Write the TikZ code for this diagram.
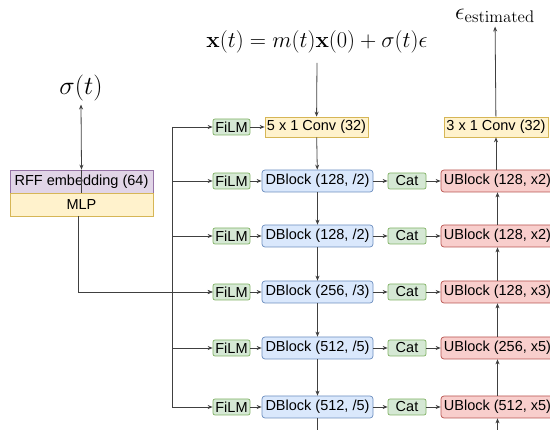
\documentclass[tikz,border=0pt]{standalone}
\usepackage{fix-cm}
\usepackage{amsmath, amssymb}
\usepackage[no-math]{fontspec}
\setmainfont{Liberation Sans}
\usetikzlibrary{arrows.meta}

\definecolor{filmfill}{HTML}{D5E8D4}
\definecolor{filmline}{HTML}{82B366}
\definecolor{dfill}{HTML}{DAE8FC}
\definecolor{dline}{HTML}{6C8EBF}
\definecolor{ufill}{HTML}{F8CECC}
\definecolor{uline}{HTML}{B85450}
\definecolor{convfill}{HTML}{FFF2CC}
\definecolor{convline}{HTML}{D6B656}
\definecolor{rfffill}{HTML}{E1D5E7}
\definecolor{rffline}{HTML}{9673A6}

\begin{document}
\begin{tikzpicture}[x=1pt,y=-1pt,
  box/.style={draw, inner sep=0pt, line width=0.7pt, font=\fontsize{14.5}{16}\selectfont},
  filmbox/.style={box, rounded corners=2pt, fill=filmfill, draw=filmline, minimum width=37pt, minimum height=16pt},
  catbox/.style={box, rounded corners=2pt, fill=filmfill, draw=filmline, minimum width=38pt, minimum height=16pt},
  dblk/.style={box, rounded corners=3pt, fill=dfill, draw=dline, minimum width=111pt, minimum height=22pt},
  ublk/.style={box, rounded corners=3pt, fill=ufill, draw=uline, minimum width=113pt, minimum height=22pt},
  convbox/.style={box, fill=convfill, draw=convline, minimum height=20pt},
  wire/.style={draw=black!75, line width=0.8pt},
  conn/.style={wire, -{Stealth[length=5pt,width=4pt]}}]
\useasboundingbox (0,0) rectangle (550,430);

\node (sig) at (81,88) {\fontsize{26}{30}\selectfont $\sigma(t)$};
\node (frm) at (317,42) {\fontsize{22.5}{26}\selectfont $\mathbf{x}(t) = m(t)\mathbf{x}(0) + \sigma(t)\epsilon$};
\node (eps) at (495,16) {\fontsize{24}{26}\selectfont $\epsilon_{\mathrm{estimated}}$};

\node[box, fill=rfffill, draw=rffline, minimum width=143pt, minimum height=23pt] (rff) at (81.5,181.5) {RFF embedding (64)};
\node[box, fill=convfill, draw=convline, minimum width=143pt, minimum height=23pt] (mlp) at (81.5,204.5) {MLP};

\node[filmbox] (fil0) at (231.5,127) {FiLM};
\node[convbox, minimum width=103pt] (cin) at (316.5,127) {5 x 1 Conv (32)};
\node[convbox, minimum width=104pt] (cout) at (496,127) {3 x 1 Conv (32)};

\foreach \i/\yy/\dl/\ul in {1/181/{128, /2}/{128, x2}, 2/236/{128, /2}/{128, x2},
    3/292/{256, /3}/{128, x3}, 4/348/{512, /5}/{256, x5}, 5/407/{512, /5}/{512, x5}}{
  \node[filmbox] (fil\i) at (231.5,\yy) {FiLM};
  \node[dblk] (dblk\i) at (317.5,\yy) {DBlock (\dl)};
  \node[catbox] (cat\i) at (407,\yy) {Cat};
  \node[ublk] (ublk\i) at (497.5,\yy) {UBlock (\ul)};
  \draw[conn] (fil\i) -- (dblk\i);
  \draw[conn] (dblk\i) -- (cat\i);
  \draw[conn] (cat\i) -- (ublk\i);
}

\coordinate (bt) at (172,127);
\coordinate (bb) at (172,407);
\draw[wire] (bt) -- (bb);
\draw[conn] (bt) -- (fil0);
\foreach \i in {1,...,5}
  \draw[conn] (bt |- fil\i) -- (fil\i);
\draw[conn] (fil0) -- (cin);

\draw[wire, {Stealth[length=5pt,width=4pt]}-{Stealth[length=5pt,width=4pt]}] (sig.south) -- (rff.north);
\draw[wire] (rff.north) -- (mlp.north);
\draw[conn] ([xshift=-3pt]mlp.south) |- (fil3);

\draw[conn] ([yshift=-6pt]frm.south) -- (cin);
\draw[conn] (cin) -- (dblk1);
\draw[conn] (dblk1) -- (dblk2);
\draw[conn] (dblk2) -- (dblk3);
\draw[conn] (dblk3) -- (dblk4);
\draw[conn] (dblk4) -- (dblk5);
\coordinate (dend) at (317.5,440);
\draw[wire] (dblk5) -- (dend);

\coordinate (uend) at (497.5,440);
\draw[conn] (uend) -- (ublk5);
\draw[conn] (ublk5) -- (ublk4);
\draw[conn] (ublk4) -- (ublk3);
\draw[conn] (ublk3) -- (ublk2);
\draw[conn] (ublk2) -- (ublk1);
\draw[conn] (ublk1.north -| cout) -- (cout);
\draw[conn] (cout) -- (eps);
\end{tikzpicture}
\end{document}
